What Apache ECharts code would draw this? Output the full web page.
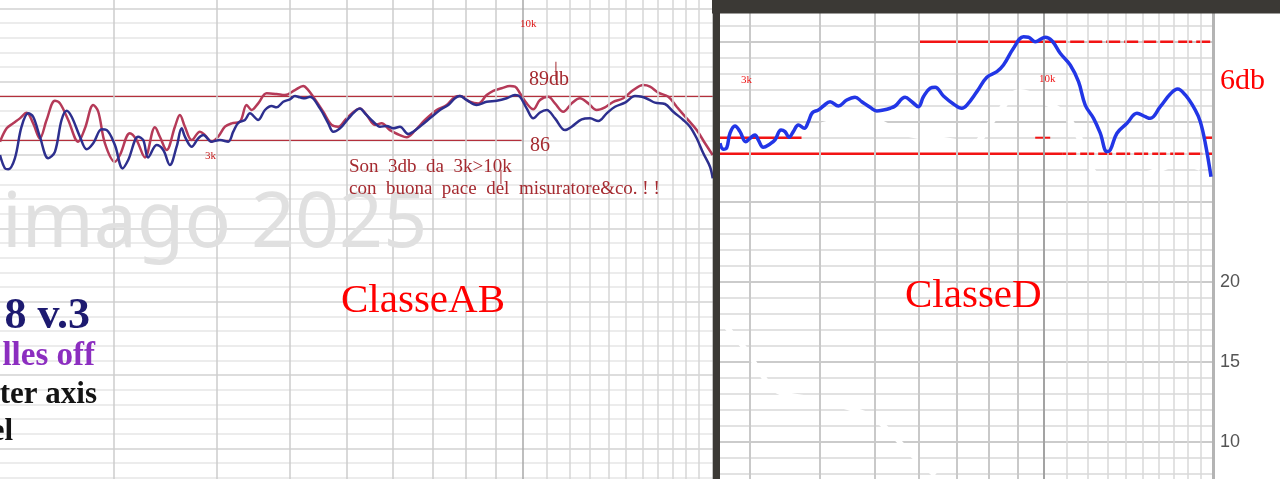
<!DOCTYPE html>
<html><head><meta charset="utf-8">
<script src="https://cdn.jsdelivr.net/npm/echarts@6/dist/echarts.min.js"></script>
<style>html,body{margin:0;padding:0;background:#fff;overflow:hidden;width:1280px;height:479px;position:relative}
#c{position:absolute;left:0;top:-70px;width:1280px;height:600px}</style>
</head><body><div id="c"></div>
<script>
// ---------- DATA ----------
// Left panel (ClasseAB): frequency [Hz] , level [dB]
const abBlue = [[1277,85.0],[1302,84.09],[1319,84.03],[1354,84.78],[1390,86.93],[1427,87.84],[1455,87.61],[1494,86.25],[1544,84.78],[1585,85.22],[1627,87.39],[1660,88.02],[1693,87.61],[1749,86.25],[1796,85.39],[1843,85.80],[1905,86.75],[1943,86.70],[2007,85.68],[2069,84.09],[2115,84.66],[2200,86.25],[2244,86.02],[2288,84.84],[2365,85.68],[2428,85.34],[2492,84.32],[2559,85.57],[2610,86.82],[2644,86.25],[2715,85.57],[2786,86.14],[2842,86.36],[2937,85.91],[3035,86.02],[3135,85.91],[3198,86.59],[3261,87.20],[3348,87.39],[3415,87.84],[3528,87.39],[3623,88.07],[3719,88.34],[3793,88.25],[3893,88.63],[3997,88.80],[4077,89.02],[4158,88.93],[4240,88.87],[4325,88.97],[4498,88.18],[4648,87.16],[4740,86.59],[4867,86.82],[5062,87.61],[5265,88.18],[5370,87.84],[5549,87.27],[5697,86.93],[5849,86.98],[6003,86.82],[6163,86.93],[6368,86.43],[6494,86.59],[6713,87.04],[6982,87.61],[7214,88.07],[7454,88.41],[7653,88.87],[7805,89.02],[8014,88.75],[8335,88.41],[8670,88.63],[9018,88.70],[9380,88.87],[9692,89.09],[9884,88.97],[10148,88.18],[10416,87.50],[10694,87.90],[10980,88.07],[11344,87.50],[11800,86.70],[12115,86.93],[12601,87.43],[13020,87.50],[13453,87.32],[13905,87.84],[14367,88.29],[14944,88.57],[15543,89.02],[15959,88.97],[16379,88.80],[16816,88.57],[17491,88.48],[18072,87.95],[18798,87.39],[19300,86.93],[19816,86.14],[20337,85.12],[20881,84.20],[21104,83.41]];
const abRed = [[1277,85.91],[1311,86.82],[1345,87.16],[1381,87.50],[1418,87.88],[1455,87.16],[1494,86.14],[1534,87.39],[1585,88.70],[1617,88.52],[1670,87.39],[1737,85.91],[1784,86.82],[1843,88.41],[1880,87.95],[1930,85.80],[2007,84.54],[2047,85.00],[2129,86.48],[2186,86.02],[2259,84.84],[2350,86.89],[2396,86.25],[2460,85.34],[2542,86.93],[2592,87.73],[2644,86.93],[2715,86.02],[2805,86.59],[2861,86.36],[2937,85.91],[3014,86.25],[3095,86.93],[3178,87.16],[3283,87.27],[3371,88.41],[3438,88.07],[3528,88.52],[3647,89.21],[3793,89.16],[3919,89.09],[4077,89.43],[4212,89.70],[4296,89.43],[4381,88.97],[4557,87.95],[4710,87.05],[4834,86.93],[4997,87.50],[5265,88.18],[5406,87.73],[5586,87.05],[5735,87.16],[5925,86.70],[6163,86.36],[6328,86.21],[6538,86.66],[6800,87.39],[7121,88.07],[7407,88.41],[7653,88.97],[7805,89.02],[8118,88.63],[8388,88.52],[8670,89.09],[8897,89.38],[9196,89.55],[9503,89.70],[9692,89.66],[9884,89.21],[10148,88.52],[10416,88.12],[10694,88.75],[11049,88.97],[11344,88.52],[11721,87.95],[12115,88.52],[12517,88.87],[12933,88.52],[13368,88.07],[13812,88.25],[14271,88.63],[14844,88.87],[15440,89.43],[16060,89.77],[16489,89.66],[17036,89.25],[17720,88.97],[18316,88.29],[19051,87.50],[19816,86.70],[20474,85.80],[21104,85.00]];
const abRef89 = [[1277,89],[21104,89]];
const abRef86 = [[1277,86],[9949,86]];
const abTick1 = [[11386,91.36],[11386,90.11]];
const abTick2 = [[9171,83.98],[9171,83.02]];

// Right panel (ClasseD)
const dBlue = [[2657,28.65],[2693,28.28],[2731,28.36],[2768,29.28],[2825,29.73],[2884,29.38],[2952,28.75],[3004,28.96],[3066,29.17],[3108,28.86],[3172,28.40],[3261,28.61],[3328,28.86],[3411,29.48],[3467,29.38],[3525,29.03],[3587,29.38],[3662,29.79],[3753,29.59],[3815,30.0],[3878,30.56],[3974,30.73],[4057,30.98],[4170,31.25],[4314,30.98],[4465,31.36],[4619,31.53],[4748,31.25],[4912,30.90],[5049,30.67],[5187,30.73],[5332,30.84],[5442,30.98],[5670,31.53],[5827,31.25],[5987,30.94],[6111,31.56],[6281,32.09],[6411,32.15],[6633,31.61],[6910,31.11],[7152,30.84],[7300,31.04],[7606,31.88],[7924,32.78],[8255,33.13],[8481,33.54],[8836,34.59],[9206,35.31],[9396,35.28],[9658,35.0],[10062,35.28],[10342,35.06],[10699,34.28],[11147,33.54],[11532,32.5],[11853,31.04],[12264,30.21],[12605,29.28],[12956,28.13],[13132,28.23],[13497,29.28],[14062,29.90],[14650,30.53],[15157,30.31],[15470,30.21],[16117,30.94],[16792,31.73],[17301,32.04],[17856,31.67],[18603,30.73],[18988,30.0],[19381,28.65],[19839,26.56]];
const dErasedA = [[3687,29.17],[3921,29.61],[4256,29.98],[4813,30.11],[5670,29.29],[6959,28.73],[7400,28.54],[8198,30.29],[9082,31.86],[10062,31.23],[10921,30.42],[11613,28.86],[12099,27.11],[13132,26.23],[15470,26.79],[17494,27.42],[18988,27.11]];
const dErasedB = [[2679,17.48],[2955,15.73],[3328,13.23],[3986,12.61],[4619,11.98],[5055,11.36],[5859,9.11],[6411,7.92]];
const dTopSolid = [[6004,35],[10354,35]];
const dTopDash = [[10354,35],[20779,35]];
const dMidSolid = [[2657,29],[3710,29]];
const dMidDashA = [[9658,29],[10270,29]];
const dMidDashB = [[19381,29],[20610,29]];
const dBotSolid = [[2657,28],[10787,28]];
const dBotDash = [[10787,28],[19945,28]];

// grid frequencies
const freqLinesLow = [2000,3000,4000,5000,6000,7000,8000,9000];
const freqLine10k = [10000];
const freqLinesHigh = [11000,12000,13000,14000,15000,16000,17000,18000,19000,20000];
const rightAxisLabels = [10,15,20];

// ---------- CHART ----------
const OFF = 70; // container starts 70px above the visible page
const chart = echarts.init(document.getElementById('c'), null, {renderer:'canvas'});
const serif = 'Liberation Serif, serif';

function vlines(list, color, width){
  return list.map(f => ({xAxis:f, lineStyle:{color:color, width:width, type:'solid'}}));
}
function gridSeries(xi, data){
  return {type:'line', xAxisIndex:xi, yAxisIndex:xi, data:[], z:1, silent:true,
    markLine:{silent:true, symbol:['none','none'], label:{show:false}, animation:false, data:data}};
}
function lineS(xi, data, color, width, z, extra){
  return Object.assign({type:'line', xAxisIndex:xi, yAxisIndex:xi, data:data, showSymbol:false, symbol:'none',
    silent:true, z:z, lineStyle:{color:color, width:width}}, extra||{});
}
function txt(x, base, text, size, color, font, align, weight, k){
  const f = (weight||'normal') + ' ' + size + 'px ' + font;
  return {type:'text', z:50, style:{x:x, y:base + OFF - (k||0.34)*size, text:text, font:f, fill:color,
    textAlign:align||'left', textVerticalAlign:'middle'}};
}

const darkRed = '#a52a30';
const option = {
  animation:false,
  backgroundColor:'#ffffff',
  grid:[
    {left:0, top:-65+OFF, width:712.7, height:586.75},
    {left:720, top:-38.3+OFF, width:493, height:560}
  ],
  xAxis:[
    {type:'log', gridIndex:0, min:1277, max:21104, show:false},
    {type:'log', gridIndex:1, min:2657, max:20000, show:false}
  ],
  yAxis:[
    {type:'value', gridIndex:0, min:60, max:100, interval:5,
     axisLine:{show:false}, axisTick:{show:false}, axisLabel:{show:false},
     splitLine:{show:true, lineStyle:{color:'#d2d2d2', width:1.5}},
     minorTick:{show:false, splitNumber:5},
     minorSplitLine:{show:true, lineStyle:{color:'#e6e6e6', width:1.5}}},
    {type:'value', gridIndex:1, min:5, max:40, interval:5, position:'right',
     axisLine:{show:false}, axisTick:{show:false},
     axisLabel:{show:true, color:'#555555', fontSize:18, fontFamily:'Liberation Sans, Arial, sans-serif', margin:7,
       formatter: v => rightAxisLabels.indexOf(v) >= 0 ? String(v) : ''},
     splitLine:{show:true, lineStyle:{color:'#cbcbcb', width:2}},
     minorTick:{show:false, splitNumber:5},
     minorSplitLine:{show:true, lineStyle:{color:'#e2e2e2', width:2}}}
  ],
  series:[
    gridSeries(0, [].concat(vlines(freqLinesLow,'#cdcdcd',1.5), vlines(freqLine10k,'#a8a8a8',1.5), vlines(freqLinesHigh,'#d6d6d6',1.5))),
    gridSeries(1, [].concat(vlines(freqLinesLow.slice(1),'#c9c9c9',2), vlines(freqLine10k,'#a3a3a3',2),
                  vlines(freqLinesHigh.slice(0,-1),'#d8d8d8',1.5), vlines([20000],'#b4b4b4',3))),
    // left panel
    lineS(0, abRef89, '#b3303c', 1.3, 3),
    lineS(0, abRef86, '#b3303c', 1.3, 3),
    lineS(0, abTick1, darkRed, 1, 3),
    lineS(0, abTick2, darkRed, 1, 3),
    lineS(0, abRed, '#b53a58', 2.5, 4, {smooth:0.35}),
    lineS(0, abBlue, '#2d2f8e', 2.5, 5, {smooth:0.35}),
    // right panel
    lineS(1, dErasedA, '#ffffff', 6, 2, {smooth:0.4}),
    lineS(1, dErasedB, '#ffffff', 5, 2, {smooth:0.3}),
    lineS(1, dTopSolid, '#f21414', 2.5, 3, {clip:false}),
    lineS(1, dTopDash, '#f21414', 2.5, 3, {clip:false, lineStyle:{color:'#f21414', width:2.5, type:[14,4]}}),
    lineS(1, dMidSolid, '#f21414', 2.5, 3, {clip:false}),
    lineS(1, dMidDashA, '#f21414', 2, 3, {clip:false}),
    lineS(1, dMidDashB, '#f21414', 2.5, 3, {clip:false}),
    lineS(1, dBotSolid, '#f21414', 2.5, 3, {clip:false}),
    lineS(1, dBotDash, '#f21414', 2.5, 3, {clip:false, lineStyle:{color:'#f21414', width:2.5, type:[14,4]}}),
    lineS(1, dBlue, '#2236e6', 3.5, 5, {smooth:0.4})
  ],
  graphic:[
    {type:'rect', z:100, shape:{x:712.7, y:0, width:7.3, height:600}, style:{fill:'#3b3935'}},
    {type:'rect', z:100, shape:{x:712, y:0, width:568, height:13.5+OFF}, style:{fill:'#3b3935'}},
    txt(2, 255, 'imago 2025', 77, '#e0e0e0', 'Noto Sans, sans-serif', 'left', 'normal', 0.39),
    txt(341, 315, 'ClasseAB', 41, '#ff0000', serif),
    txt(905, 310, 'ClasseD', 41, '#ff0000', serif),
    txt(1220, 91, '6db', 30, '#ff0000', serif),
    txt(529, 87, '89db', 20, darkRed, serif),
    txt(530, 153, '86', 20, darkRed, serif),
    txt(349, 173, 'Son  3db  da  3k>10k', 19, darkRed, serif),
    txt(349, 195, 'con  buona  pace  del  misuratore&co. ! !', 19, darkRed, serif),
    txt(520, 28, '10k', 11, '#e01818', serif),
    txt(205, 160, '3k', 11, '#c82020', serif),
    txt(741, 84, '3k', 11, '#ee1818', serif),
    txt(1039, 83, '10k', 11, '#ee1818', serif),
    txt(90, 332, '8 v.3', 44, '#1d1a70', serif, 'right', 'bold'),
    txt(95, 368, 'lles off', 33, '#8c2ec0', serif, 'right', 'bold'),
    txt(97, 406, 'ter axis', 31, '#141414', serif, 'right', 'bold'),
    txt(13, 443, 'el', 31, '#141414', serif, 'right', 'bold')
  ]
};
chart.setOption(option);
</script>
</body></html>
